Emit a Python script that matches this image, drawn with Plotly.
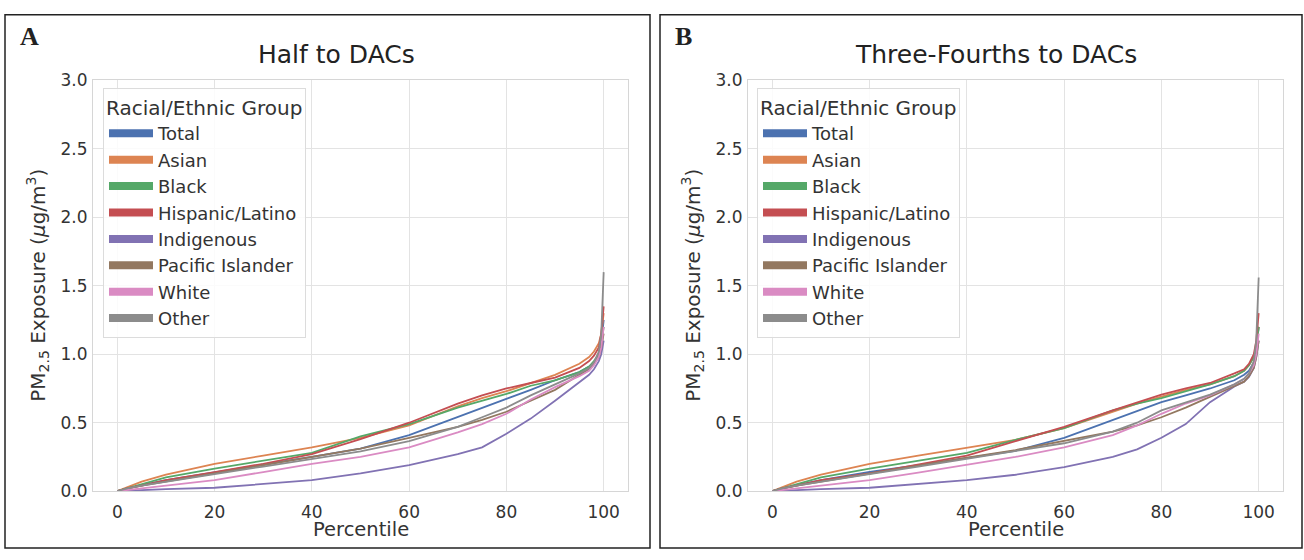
import plotly.graph_objects as go

# ---------------- data ----------------
percentiles = [0, 2, 5, 10, 20, 30, 40, 50, 60, 70, 75, 80, 85, 90, 95, 97, 98, 99, 99.5, 100]
groups = ["Total", "Asian", "Black", "Hispanic/Latino", "Indigenous",
          "Pacific Islander", "White", "Other"]
colors = ["#4C72B0", "#DD8452", "#55A868", "#C44E52", "#8172B3",
          "#937860", "#DA8BC3", "#8C8C8C"]

half_total = [0, 0.02, 0.045, 0.08, 0.14, 0.195, 0.25, 0.31, 0.41, 0.54, 0.61, 0.67, 0.74, 0.81, 0.87, 0.91, 0.94, 1.0, 1.08, 1.25]
half_asian = [0, 0.03, 0.07, 0.12, 0.20, 0.26, 0.32, 0.39, 0.48, 0.62, 0.68, 0.73, 0.79, 0.85, 0.93, 0.98, 1.02, 1.08, 1.15, 1.3]
half_black = [0, 0.02, 0.05, 0.10, 0.165, 0.22, 0.28, 0.40, 0.49, 0.61, 0.66, 0.71, 0.77, 0.81, 0.87, 0.91, 0.95, 1.0, 1.08, 1.2]
half_hispanic = [0, 0.02, 0.04, 0.08, 0.14, 0.20, 0.27, 0.38, 0.50, 0.64, 0.70, 0.75, 0.79, 0.83, 0.90, 0.95, 0.99, 1.05, 1.15, 1.35]
half_indigenous = [0, 0.003, 0.008, 0.015, 0.025, 0.05, 0.08, 0.13, 0.19, 0.27, 0.32, 0.42, 0.53, 0.66, 0.80, 0.85, 0.89, 0.95, 1.0, 1.1]
half_pacific = [0, 0.02, 0.04, 0.07, 0.13, 0.19, 0.25, 0.31, 0.39, 0.47, 0.52, 0.58, 0.66, 0.74, 0.85, 0.89, 0.93, 0.98, 1.05, 1.15]
half_white = [0, 0.01, 0.02, 0.04, 0.08, 0.14, 0.20, 0.25, 0.32, 0.43, 0.49, 0.565, 0.67, 0.76, 0.84, 0.88, 0.92, 0.98, 1.05, 1.2]
half_other = [0, 0.02, 0.04, 0.07, 0.125, 0.18, 0.235, 0.29, 0.365, 0.47, 0.54, 0.61, 0.70, 0.78, 0.86, 0.90, 0.94, 1.02, 1.15, 1.6]

tf_total = [0, 0.02, 0.045, 0.08, 0.14, 0.19, 0.245, 0.295, 0.39, 0.52, 0.59, 0.65, 0.70, 0.75, 0.81, 0.85, 0.88, 0.94, 1.02, 1.2]
tf_asian = [0, 0.03, 0.07, 0.12, 0.20, 0.26, 0.32, 0.375, 0.46, 0.58, 0.64, 0.69, 0.74, 0.78, 0.84, 0.88, 0.92, 0.98, 1.05, 1.2]
tf_black = [0, 0.02, 0.05, 0.10, 0.165, 0.22, 0.28, 0.375, 0.46, 0.59, 0.64, 0.68, 0.73, 0.78, 0.84, 0.88, 0.92, 0.98, 1.06, 1.2]
tf_hispanic = [0, 0.02, 0.04, 0.08, 0.13, 0.195, 0.26, 0.365, 0.47, 0.59, 0.65, 0.705, 0.75, 0.79, 0.86, 0.89, 0.93, 1.0, 1.1, 1.3]
tf_indigenous = [0, 0.003, 0.008, 0.015, 0.025, 0.05, 0.08, 0.12, 0.175, 0.25, 0.305, 0.39, 0.49, 0.65, 0.765, 0.80, 0.835, 0.9, 0.98, 1.1]
tf_pacific = [0, 0.02, 0.04, 0.07, 0.13, 0.19, 0.245, 0.30, 0.365, 0.435, 0.48, 0.54, 0.61, 0.69, 0.765, 0.80, 0.84, 0.9, 0.98, 1.1]
tf_white = [0, 0.01, 0.02, 0.04, 0.08, 0.135, 0.19, 0.25, 0.32, 0.41, 0.48, 0.565, 0.64, 0.70, 0.78, 0.82, 0.86, 0.92, 1.0, 1.15]
tf_other = [0, 0.02, 0.04, 0.07, 0.125, 0.18, 0.235, 0.29, 0.35, 0.435, 0.50, 0.59, 0.65, 0.705, 0.78, 0.82, 0.86, 0.95, 1.1, 1.56]

panel_titles = ["Half to DACs", "Three-Fourths to DACs"]
panel_letters = ["A", "B"]
x_ticks = [0, 20, 40, 60, 80, 100]
y_ticks = [0.0, 0.5, 1.0, 1.5, 2.0, 2.5, 3.0]

half_series = [half_total, half_asian, half_black, half_hispanic, half_indigenous,
               half_pacific, half_white, half_other]
tf_series = [tf_total, tf_asian, tf_black, tf_hispanic, tf_indigenous,
             tf_pacific, tf_white, tf_other]

# ---------------- layout geometry ----------------
W, H = 1304, 560
FONT = "DejaVu Sans, Verdana, sans-serif"
TXT = "#333333"

def px_x(p):
    return p / W

def px_y(p):
    return 1 - p / H

plot_left = [93, 748]
plot_right = [628, 1283]
plot_top, plot_bottom = 73, 499
title_cx = [336, 996]

fig = go.Figure()

for pi, series in enumerate([half_series, tf_series]):
    xa = "x" if pi == 0 else "x2"
    ya = "y" if pi == 0 else "y2"
    leg = "legend" if pi == 0 else "legend2"
    for gi, (g, c, vals) in enumerate(zip(groups, colors, series)):
        fig.add_trace(go.Scatter(
            x=percentiles, y=vals, mode="lines", name=g,
            line=dict(color=c, width=1.8),
            xaxis=xa, yaxis=ya, showlegend=False, hoverinfo="x+y+name"))
    # legend entries (thick swatches like the reference)
    for gi, (g, c) in enumerate(zip(groups, colors)):
        fig.add_trace(go.Scatter(
            x=[None], y=[None], mode="lines", name=g,
            line=dict(color=c, width=8),
            xaxis=xa, yaxis=ya, showlegend=True, legend=leg,
            legendgroup=f"{pi}_{gi}"))

axis_common = dict(
    showgrid=True, gridcolor="#e3e3e3", gridwidth=1,
    showline=True, linecolor="#d6d6d6", linewidth=1, mirror=True,
    zeroline=False, ticks="outside", tickcolor="rgba(0,0,0,0)",
    tickfont=dict(family=FONT, size=17, color=TXT),
)

fig.update_layout(
    width=W, height=H,
    margin=dict(l=0, r=0, t=0, b=0),
    paper_bgcolor="white", plot_bgcolor="white",
    font=dict(family=FONT, color=TXT),
    xaxis=dict(domain=[px_x(plot_left[0]), px_x(plot_right[0])], range=[-5, 105],
               tickvals=x_ticks, anchor="y", ticklen=5, **axis_common),
    yaxis=dict(domain=[px_y(plot_bottom), px_y(plot_top)], range=[0, 3.0],
               tickvals=y_ticks, tickformat=".1f", anchor="x", ticklen=1, **axis_common),
    xaxis2=dict(domain=[px_x(plot_left[1]), px_x(plot_right[1])], range=[-5, 105],
                tickvals=x_ticks, anchor="y2", ticklen=5, **axis_common),
    yaxis2=dict(domain=[px_y(plot_bottom), px_y(plot_top)], range=[0, 3.0],
                tickvals=y_ticks, tickformat=".1f", anchor="x2", ticklen=1, **axis_common),
    showlegend=True,
)

legend_common = dict(
    xanchor="left", yanchor="top",
    bgcolor="rgba(255,255,255,0.85)", bordercolor="#dcdcdc", borderwidth=1,
    font=dict(family=FONT, size=18, color=TXT),
    title=dict(text="Racial/Ethnic Group", font=dict(family=FONT, size=20, color=TXT)),
    tracegroupgap=0, itemwidth=44, traceorder="grouped",
)
fig.update_layout(
    legend=dict(x=px_x(103), y=px_y(81), **legend_common),
    legend2=dict(x=px_x(757), y=px_y(81), **legend_common),
)

# panel borders, titles, letters, axis titles
panel_box = [(5, 650), (660, 1302)]
for pi in range(2):
    x0, x1 = panel_box[pi]
    fig.add_shape(type="rect", xref="paper", yref="paper",
                  x0=px_x(x0), x1=px_x(x1), y0=px_y(558), y1=px_y(5),
                  line=dict(color="#222222", width=1.5), fillcolor="rgba(0,0,0,0)",
                  layer="above")
    cx = (plot_left[pi] + plot_right[pi]) / 2
    fig.add_annotation(x=px_x(title_cx[pi]), y=px_y(46), xref="paper", yref="paper",
                       text=panel_titles[pi], showarrow=False,
                       font=dict(family=FONT, size=25, color="#222222"),
                       xanchor="center", yanchor="middle")
    fig.add_annotation(x=px_x(x0 + 13), y=px_y(27), xref="paper", yref="paper",
                       text="<b>" + panel_letters[pi] + "</b>", showarrow=False,
                       font=dict(family="Liberation Serif, Times New Roman, serif", size=26, color="#222222"),
                       xanchor="left", yanchor="middle")
    fig.add_annotation(x=px_x(cx), y=px_y(539), xref="paper", yref="paper",
                       text="Percentile", showarrow=False,
                       font=dict(family=FONT, size=19.5, color=TXT),
                       xanchor="center", yanchor="middle")
    fig.add_annotation(x=px_x(plot_left[pi] - 55), y=px_y((plot_top + plot_bottom) / 2),
                       xref="paper", yref="paper",
                       text="PM<sub>2.5</sub> Exposure (<i>μ</i>g/m<sup>3</sup>)",
                       showarrow=False, textangle=-90,
                       font=dict(family=FONT, size=20, color=TXT),
                       xanchor="center", yanchor="middle")

post = ("document.documentElement.style.margin='0';"
        "document.documentElement.style.padding='0';"
        "document.body.style.margin='0';document.body.style.padding='0';"
        "document.body.style.overflow='hidden';"
        "var d=document.getElementById('{plot_id}');"
        "if(d){d.style.position='absolute';d.style.left='0px';d.style.top='0px';}")
fig.write_html("out.html", post_script=post)
